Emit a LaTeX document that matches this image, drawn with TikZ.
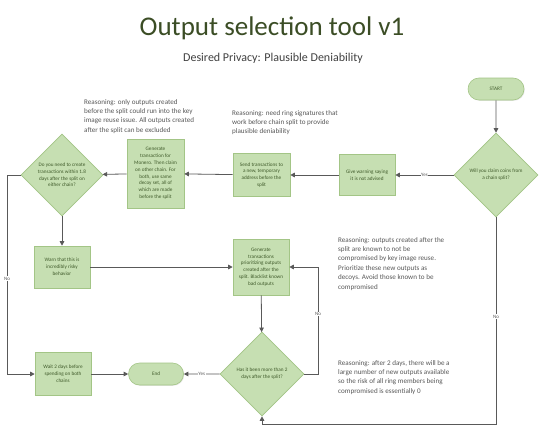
\documentclass[tikz,border=0pt]{standalone}
\usepackage{fontspec}
\setmainfont{Carlito}
\usetikzlibrary{shapes.geometric,shapes.misc,arrows.meta,shadows}
\definecolor{boxfill}{HTML}{C6DFB2}
\definecolor{boxline}{HTML}{A3C586}
\definecolor{lnc}{HTML}{595959}
\definecolor{titlec}{HTML}{3B4D25}
\definecolor{subc}{HTML}{404040}
\definecolor{boxtxt}{HTML}{3F5A2A}
\tikzset{
  shd/.style={drop shadow={opacity=0.18, shadow xshift=0.8pt, shadow yshift=-0.8pt}},
  boxnode/.style={rectangle, draw=boxline, fill=boxfill, line width=0.6pt, inner sep=0pt, shd,
    align=center, text=boxtxt, font=\fontsize{5.2}{6.8}\selectfont},
  decnode/.style={diamond, draw=boxline, fill=boxfill, line width=0.6pt, inner sep=0pt,
    minimum width=84pt, minimum height=84pt, align=center, text=boxtxt,
    font=\fontsize{5.2}{6.8}\selectfont},
  termnode/.style={rounded rectangle, draw=boxline, fill=boxfill, line width=0.6pt, inner sep=0pt, shd,
    minimum width=56pt, minimum height=22pt, align=center, text=boxtxt,
    font=\fontsize{5.2}{6.8}\selectfont},
  reason/.style={anchor=north west, inner sep=0pt, align=left, text=lnc,
    font=\fontsize{7.1}{9.4}\selectfont},
  arr/.style={draw=lnc, line width=0.8pt, -{Triangle[length=4.5pt,width=4.5pt]}},
  lbl/.style={fill=white, inner sep=0.5pt, text=lnc, font=\fontsize{5}{6}\selectfont}
}
\begin{document}
\begin{tikzpicture}[x=1pt,y=-1pt]
\path[use as bounding box, fill=white] (0,0) rectangle (540,428);
\node[text=titlec, font=\fontsize{27}{30}\selectfont, inner sep=0pt] (title) at (272,28) {Output selection tool v1};
\node[text=subc, font=\fontsize{12}{14}\selectfont, inner sep=0pt] (sub) at (273,58) {Desired Privacy: Plausible Deniability};

\node[termnode] (start) at (496,89) {START};
\node[decnode] (d1) at (496,175) {Will you claim coins from\\a chain split?};
\node[boxnode, minimum width=56pt, minimum height=41pt] (give) at (367,175) {Give warning saying\\it is not advised};
\node[boxnode, minimum width=57pt, minimum height=43pt] (send) at (261.5,175) {Send transactions to\\a new, temporary\\address before the\\split};
\node[boxnode, minimum width=57pt, minimum height=69pt] (gen1) at (155.5,173.5) {Generate\\transaction for\\Monero. Then claim\\on other chain. For\\both, use same\\decoy set, all of\\which are made\\before the split};
\node[decnode, minimum width=82pt, minimum height=82pt] (d2) at (62,175) {Do you need to create\\transactions within 1.8\\days after the split on\\either chain?};
\node[boxnode, minimum width=56pt, minimum height=42pt] (warn) at (62,267) {Warn that this is\\incredibly risky\\behavior};
\node[boxnode, minimum width=56pt, minimum height=56pt] (gen2) at (261,267) {Generate\\transactions\\prioritizing outputs\\created after the\\split. Blacklist known\\bad outputs};
\node[decnode] (d3) at (262,374) {Has it been more than 2\\days after the split?};
\node[termnode, minimum width=55pt] (end) at (156,374) {End};
\node[boxnode, minimum width=56pt, minimum height=43pt] (wait) at (63,374) {Wait 2 days before\\spending on both\\chains};

\node[reason] (r1) at (84,99) {Reasoning: only outputs created\\before the split could run into the key\\image reuse issue. All outputs created\\after the split can be excluded};
\node[reason] (r2) at (232,110) {Reasoning: need ring signatures that\\work before chain split to provide\\plausible deniability};
\node[reason] (r3) at (338,237) {Reasoning: outputs created after the\\split are known to not be\\compromised by key image reuse.\\Prioritize these new outputs as\\decoys. Avoid those known to be\\compromised};
\node[reason] (r4) at (338,360) {Reasoning: after 2 days, there will be a\\large number of new outputs available\\so the risk of all ring members being\\compromised is essentially 0};

\coordinate (c1) at (496,424);
\coordinate (c2) at (262,424);
\coordinate (c3) at (7,175);
\coordinate (c4) at (318,374);

\draw[arr] (start) -- (d1);
\draw[arr] (d1) -- node[lbl]{Yes} (give);
\draw[arr] (give) -- (send);
\draw[arr] (send) -- (gen1);
\draw[arr] (gen1) -- (d2);
\draw[arr] (d2) -- (warn);
\draw[arr] (d2.west) -- (c3) |- node[lbl, pos=0.26]{No} (wait.west);
\draw[arr] (warn) -- (gen2);
\draw[arr] (gen2) -- (d3);
\draw[arr] (d3) -- node[lbl]{Yes} (end);
\draw[arr] (wait) -- (end);
\draw[arr] (d3.east) -- (c4) |- node[lbl, pos=0.28]{No} (gen2.east);
\draw[arr] (d1.south) -- node[lbl, pos=0.48]{No} (c1) -- (c2) -- (d3.south);
\end{tikzpicture}
\end{document}
